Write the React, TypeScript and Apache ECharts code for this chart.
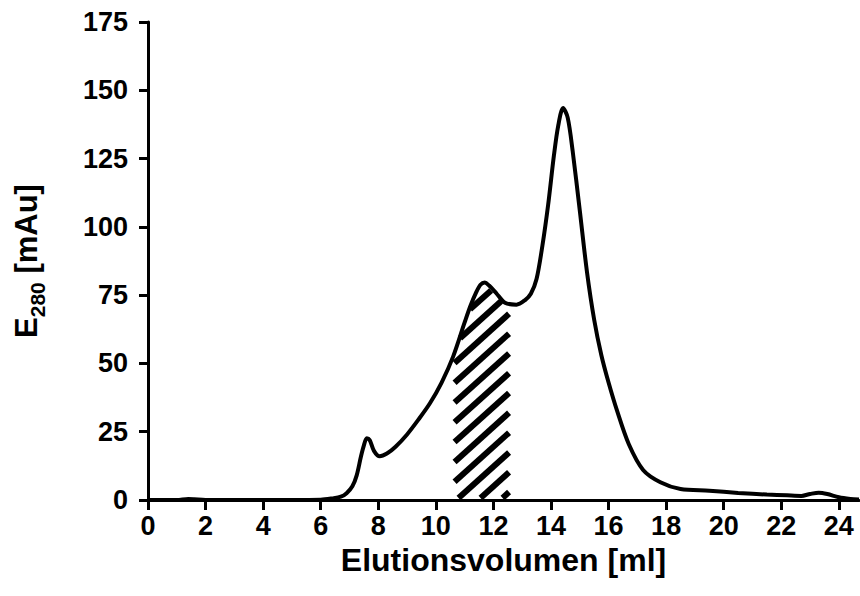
import React, { useEffect, useRef } from "react";
import * as echarts from "echarts";

// Elution volume (ml) and absorbance at 280 nm (mAu) of the size-exclusion run
const volume = [
  0, 1.0, 1.4, 1.6, 2.0, 5.0, 6.0, 6.4, 6.7, 6.9, 7.1, 7.25, 7.4, 7.5, 7.6, 7.7,
  7.85, 8.05, 8.3, 8.6, 9.0, 9.4, 9.8, 10.2, 10.6, 11.0, 11.2, 11.4, 11.55, 11.7,
  11.85, 12.1, 12.4, 12.8, 13.1, 13.3, 13.5, 13.7, 13.9, 14.1, 14.25, 14.42, 14.58,
  14.75, 15.0, 15.25, 15.5, 15.75, 16.0, 16.3, 16.7, 17.2, 17.8, 18.5, 19.5, 20.5,
  21.5, 22.2, 22.7, 23.0, 23.3, 23.6, 24.0, 24.4, 24.7,
];
const absorbance = [
  0, 0, 0.4, 0.3, 0, 0, 0.1, 0.6, 1.2, 2.5, 5, 9, 16, 20, 22.6, 22, 18, 16, 17,
  19.5, 24, 29.5, 35.5, 43, 52.5, 65, 71, 76, 78.8, 79.6, 78.5, 75.7, 72.2, 71.5,
  73.2, 75.5, 81, 93, 108, 126, 137, 143.5, 140, 128, 106, 83.5, 66, 53, 43, 32.5,
  20.5, 11, 6.5, 4, 3.4, 2.6, 2.0, 1.7, 1.5, 2.2, 2.7, 2.2, 1.0, 0.4, 0.2,
];

// Collected fraction (hatched)
const fractionStart = 10.65;
const fractionEnd = 12.55;

const xTickValues = [0, 2, 4, 6, 8, 10, 12, 14, 16, 18, 20, 22, 24];
const yMin = 0;
const yMax = 175;
const yStep = 25;
const xMin = 0;
const xMax = 24.7;

const xTitle = "Elutionsvolumen [ml]";
const yTitle = "{e|E}{s|280}{e| [mAu]}";

const FONT = "'Liberation Sans', Arial, Helvetica, sans-serif";

export default function App() {
  const ref = useRef<HTMLDivElement | null>(null);

  useEffect(() => {
    if (!ref.current) return;
    const chart = echarts.init(ref.current, undefined, { renderer: "svg" });

    const curve = volume.map((v, i) => [v, absorbance[i]]);

    // Diagonal hatching clipped to the area under the trace within the fraction
    const renderHatch = (params: any, api: any) => {
      const pts = curve.map((p) => api.coord(p));
      const base = api.coord([0, 0])[1];
      const left = api.coord([fractionStart, 0])[0];
      const right = api.coord([fractionEnd, 0])[0];
      const curveY = (px: number) => {
        for (let i = 0; i < pts.length - 1; i++) {
          const a = pts[i];
          const b = pts[i + 1];
          if (px >= a[0] && px <= b[0]) {
            const t = b[0] === a[0] ? 0 : (px - a[0]) / (b[0] - a[0]);
            return a[1] + t * (b[1] - a[1]);
          }
        }
        return base;
      };
      const slope = 0.9;
      const spacing = 19.8;
      const children: any[] = [];
      const c0 = base - 18.3;
      const seg = (a: number[], b: number[]) => ({
        type: "line",
        shape: { x1: a[0], y1: a[1], x2: b[0], y2: b[1] },
        style: { stroke: "#000", lineWidth: 6, lineCap: "butt" },
      });
      for (let k = -8; k < 30; k++) {
        const c = c0 - spacing * k;
        let start: number[] | null = null;
        let last: number[] | null = null;
        for (let px = left; px <= right + 0.01; px += 0.5) {
          const py = c - slope * (px - left);
          const inside = py <= base - 2 && py >= curveY(px) + 2;
          if (inside) {
            if (!start) start = [px, py];
            last = [px, py];
          } else if (start && last) {
            children.push(seg(start, last));
            start = null;
            last = null;
          }
        }
        if (start && last) children.push(seg(start, last));
      }
      return { type: "group", children };
    };

    const labelStyle = {
      color: "#000",
      fontFamily: FONT,
      fontWeight: "bold" as const,
      fontSize: 27,
    };

    chart.setOption({
      animation: false,
      backgroundColor: "#fff",
      grid: { left: 148, top: 22, right: 1, bottom: 96, containLabel: false },
      xAxis: {
        type: "value",
        min: xMin,
        max: xMax,
        interval: 2,
        name: xTitle,
        nameLocation: "middle",
        nameGap: 34,
        nameTextStyle: { ...labelStyle, fontSize: 32 },
        axisLine: { show: true, onZero: false, lineStyle: { color: "#000", width: 3 } },
        axisTick: {
          show: true,
          length: 10,
          customValues: xTickValues,
          lineStyle: { color: "#000", width: 3 },
        },
        axisLabel: { ...labelStyle, margin: 12, customValues: xTickValues },
        splitLine: { show: false },
      },
      yAxis: {
        type: "value",
        min: yMin,
        max: yMax,
        interval: yStep,
        name: yTitle,
        nameLocation: "middle",
        nameGap: 100,
        nameRotate: 90,
        nameTextStyle: {
          rich: {
            e: { ...labelStyle, fontSize: 31, lineHeight: 34, verticalAlign: "middle" },
            s: { ...labelStyle, fontSize: 21, lineHeight: 44, verticalAlign: "bottom" },
          },
        },
        axisLine: { show: true, lineStyle: { color: "#000", width: 3 } },
        axisTick: { show: true, length: 9, lineStyle: { color: "#000", width: 3 } },
        axisLabel: { ...labelStyle, margin: 20 },
        splitLine: { show: false },
      },
      series: [
        {
          type: "custom",
          renderItem: renderHatch,
          data: [[fractionStart, fractionEnd]],
          silent: true,
          z: 1,
        },
        {
          type: "line",
          data: curve,
          showSymbol: false,
          symbol: "none",
          smooth: 0.3,
          lineStyle: { color: "#000", width: 4 },
          z: 3,
        },
      ],
    });

    return () => chart.dispose();
  }, []);

  return (
    <div
      ref={ref}
      style={{ position: "absolute", left: 0, top: 0, width: 860, height: 596, background: "#fff" }}
    />
  );
}
